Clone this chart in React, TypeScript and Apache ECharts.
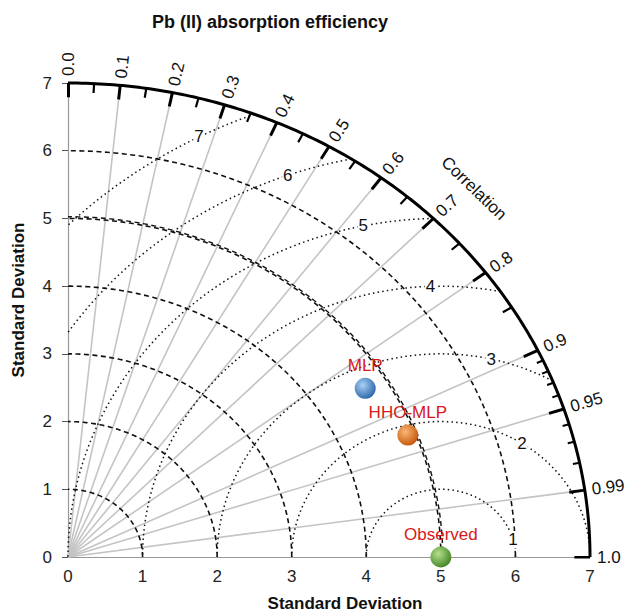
import React, { useEffect, useRef } from 'react';
import * as echarts from 'echarts';

const TITLE = 'Pb (II) absorption efficiency';
const AXIS_NAME = 'Standard Deviation';
const CORR_NAME = 'Correlation';

const MODEL_NAMES = ['Observed', 'MLP', 'HHO-MLP'];
const MODEL_SD = [5.0, 4.7, 4.9];
const MODEL_CORR = [1.0, 0.848, 0.93];
const MODEL_COLORS = [
  ['#b6e08e', '#3f8220'],
  ['#a8d0f4', '#2863a8'],
  ['#fbb877', '#c25408'],
];

const REF_SD = 5.0;
const MAX_SD = 7;
const SD_ARCS = [1, 2, 3, 4, 5, 6];
const CORR_RAYS = [0.1, 0.2, 0.3, 0.4, 0.5, 0.6, 0.7, 0.8, 0.9, 0.95, 0.99];
const CORR_LABEL_VALUES = [0, 0.1, 0.2, 0.3, 0.4, 0.5, 0.6, 0.7, 0.8, 0.9, 0.95, 0.99, 1.0];
const CORR_LABELS = ['0.0', '0.1', '0.2', '0.3', '0.4', '0.5', '0.6', '0.7', '0.8', '0.9', '0.95', '0.99', '1.0'];
const CORR_MEDIUM = [0.05, 0.15, 0.25, 0.35, 0.45, 0.55, 0.65, 0.75, 0.85];
const CORR_SMALL = [0.91, 0.92, 0.93, 0.94, 0.96, 0.97, 0.98];
const RMS_LEVELS = [1, 2, 3, 4, 5, 6, 7];
const RMS_LABEL_ANGLES = [15, 57, 77, 92, 102, 110, 117.6];

const FONT = '"Liberation Sans", Arial, sans-serif';

const polar = (r: number, c: number): [number, number] => [r * c, r * Math.sqrt(Math.max(0, 1 - c * c))];

function arcPoints(r: number): [number, number][] {
  const pts: [number, number][] = [];
  for (let i = 0; i <= 180; i++) {
    const t = (i / 180) * (Math.PI / 2);
    pts.push([r * Math.cos(t), r * Math.sin(t)]);
  }
  return pts;
}

function rmsPoints(r: number): [number, number][] {
  const clamp = (v: number) => Math.max(-1, Math.min(1, v));
  const tMin = Math.acos(clamp((MAX_SD * MAX_SD - REF_SD * REF_SD - r * r) / (2 * REF_SD * r)));
  const tMax = Math.acos(clamp(-REF_SD / r));
  const pts: [number, number][] = [];
  const n = 200;
  for (let i = 0; i <= n; i++) {
    const t = tMin + ((tMax - tMin) * i) / n;
    pts.push([REF_SD + r * Math.cos(t), r * Math.sin(t)]);
  }
  return pts;
}

function tickSegs(values: number[], frac: number) {
  return values.map((c) => ({ coords: [polar(MAX_SD, c), polar(MAX_SD * (1 - frac), c)] }));
}

export default function App() {
  const ref = useRef<HTMLDivElement>(null);

  useEffect(() => {
    if (!ref.current) return;
    const chart = echarts.init(ref.current, null, { renderer: 'svg' });

    const series: any[] = [];

    series.push({
      type: 'lines',
      coordinateSystem: 'cartesian2d',
      silent: true,
      z: 1,
      lineStyle: { color: '#c4c4c4', width: 1.6, opacity: 1 },
      data: CORR_RAYS.map((c) => ({ coords: [[0, 0], polar(MAX_SD * 0.97, c)] })),
    });

    SD_ARCS.forEach((s) => {
      series.push({
        type: 'line',
        silent: true,
        showSymbol: false,
        clip: false,
        z: 2,
        data: arcPoints(s),
        lineStyle: { color: '#111', width: 1.6, type: [5, 3.5] },
      });
    });
    // reference standard deviation arc (drawn over the 5 arc, slightly shifted)
    series.push({
      type: 'line',
      silent: true,
      showSymbol: false,
      clip: false,
      z: 2,
      data: arcPoints(REF_SD * 1.005),
      lineStyle: { color: '#111', width: 1.4, type: [5, 3.5], dashOffset: 2.5 },
    });

    RMS_LEVELS.forEach((r) => {
      series.push({
        type: 'line',
        silent: true,
        showSymbol: false,
        clip: false,
        z: 2,
        data: rmsPoints(r),
        lineStyle: { color: '#111', width: 1.5, type: [1.5, 3.2] },
      });
    });

    series.push({
      type: 'scatter',
      silent: true,
      clip: false,
      z: 3,
      symbolSize: 0,
      itemStyle: { opacity: 1 },
      data: RMS_LEVELS.map((r, i) => {
        const a = (RMS_LABEL_ANGLES[i] * Math.PI) / 180;
        return { value: [REF_SD + r * Math.cos(a), r * Math.sin(a)], name: String(r) };
      }),
      label: {
        show: true,
        position: 'inside',
        formatter: '{b}',
        color: '#111',
        opacity: 1,
        fontSize: 17,
        fontFamily: FONT,
        backgroundColor: '#fff',
        padding: [0, 1],
      },
    });

    series.push({
      type: 'line',
      silent: true,
      showSymbol: false,
      clip: false,
      z: 4,
      data: arcPoints(MAX_SD),
      lineStyle: { color: '#000', width: 3 },
    });

    series.push({
      type: 'lines',
      coordinateSystem: 'cartesian2d',
      silent: true,
      z: 4,
      lineStyle: { color: '#000', width: 3, opacity: 1 },
      data: tickSegs(CORR_LABEL_VALUES, 0.03),
    });
    series.push({
      type: 'lines',
      coordinateSystem: 'cartesian2d',
      silent: true,
      z: 4,
      lineStyle: { color: '#000', width: 2.2, opacity: 1 },
      data: tickSegs(CORR_MEDIUM, 0.02),
    });
    series.push({
      type: 'lines',
      coordinateSystem: 'cartesian2d',
      silent: true,
      z: 4,
      lineStyle: { color: '#000', width: 2, opacity: 1 },
      data: tickSegs(CORR_SMALL, 0.013),
    });

    series.push({
      type: 'scatter',
      clip: false,
      z: 6,
      symbol: 'circle',
      symbolSize: 21,
      itemStyle: { opacity: 1 },
      data: MODEL_NAMES.map((n, i) => ({
        name: n,
        value: polar(MODEL_SD[i], MODEL_CORR[i]),
        itemStyle: {
          opacity: 1,
          color: new echarts.graphic.RadialGradient(0.38, 0.35, 0.7, [
            { offset: 0, color: MODEL_COLORS[i][0] },
            { offset: 1, color: MODEL_COLORS[i][1] },
          ]),
        },
      })),
      label: {
        show: true,
        position: 'top',
        distance: 4,
        formatter: '{b}',
        color: '#d81818',
        opacity: 1,
        fontSize: 17,
        fontFamily: FONT,
      },
    });

    const axisCommon = {
      type: 'value',
      min: 0,
      max: MAX_SD,
      interval: 1,
      splitLine: { show: false },
      axisLine: { show: true, lineStyle: { color: '#999', width: 1.2 } },
    };

    chart.setOption({
      animation: false,
      backgroundColor: '#fff',
      grid: { left: 68, right: 39, top: 83, bottom: 56 },
      xAxis: {
        ...axisCommon,
        axisTick: { show: false },
        axisLabel: { color: '#222', fontSize: 17, fontFamily: FONT, margin: 11 },
      },
      yAxis: {
        ...axisCommon,
        axisTick: { show: true, length: 6, lineStyle: { color: '#555' } },
        axisLabel: { color: '#222', fontSize: 17, fontFamily: FONT, margin: 16 },
      },
      series,
    });

    const o = chart.convertToPixel({ gridIndex: 0 }, [0, 0]) as number[];
    const textStyle = (text: string, font: string, align: string) => ({
      text,
      font,
      fill: '#111',
      align,
      verticalAlign: 'middle',
      textAlign: align,
      textVerticalAlign: 'middle',
    });
    const graphics: any[] = CORR_LABEL_VALUES.map((c, i) => {
      const p = chart.convertToPixel({ gridIndex: 0 }, polar(MAX_SD, c)) as number[];
      const dx = p[0] - o[0];
      const dy = p[1] - o[1];
      const L = Math.hypot(dx, dy);
      return {
        type: 'text',
        x: p[0] + (dx / L) * 7,
        y: p[1] + (dy / L) * 7,
        rotation: Math.atan2(-dy, dx),
        silent: true,
        style: textStyle(CORR_LABELS[i], `17px ${FONT}`, 'left'),
      };
    });
    const cp = chart.convertToPixel({ gridIndex: 0 }, polar(7.7, Math.SQRT1_2)) as number[];
    graphics.push({
      type: 'text',
      x: cp[0],
      y: cp[1],
      rotation: (-44 * Math.PI) / 180,
      silent: true,
      style: textStyle(CORR_NAME, `17px ${FONT}`, 'center'),
    });
    graphics.push({
      type: 'text',
      x: 270,
      y: 22,
      silent: true,
      style: textStyle(TITLE, `bold 18px ${FONT}`, 'center'),
    });
    graphics.push({
      type: 'text',
      x: 345,
      y: 603,
      silent: true,
      style: textStyle(AXIS_NAME, `bold 17px ${FONT}`, 'center'),
    });
    graphics.push({
      type: 'text',
      x: 18,
      y: 300,
      rotation: Math.PI / 2,
      silent: true,
      style: textStyle(AXIS_NAME, `bold 17px ${FONT}`, 'center'),
    });

    chart.setOption({ graphic: graphics });

    return () => chart.dispose();
  }, []);

  return (
    <div
      ref={ref}
      style={{ position: 'fixed', left: 0, top: 0, width: 629, height: 613, background: '#fff' }}
    />
  );
}
